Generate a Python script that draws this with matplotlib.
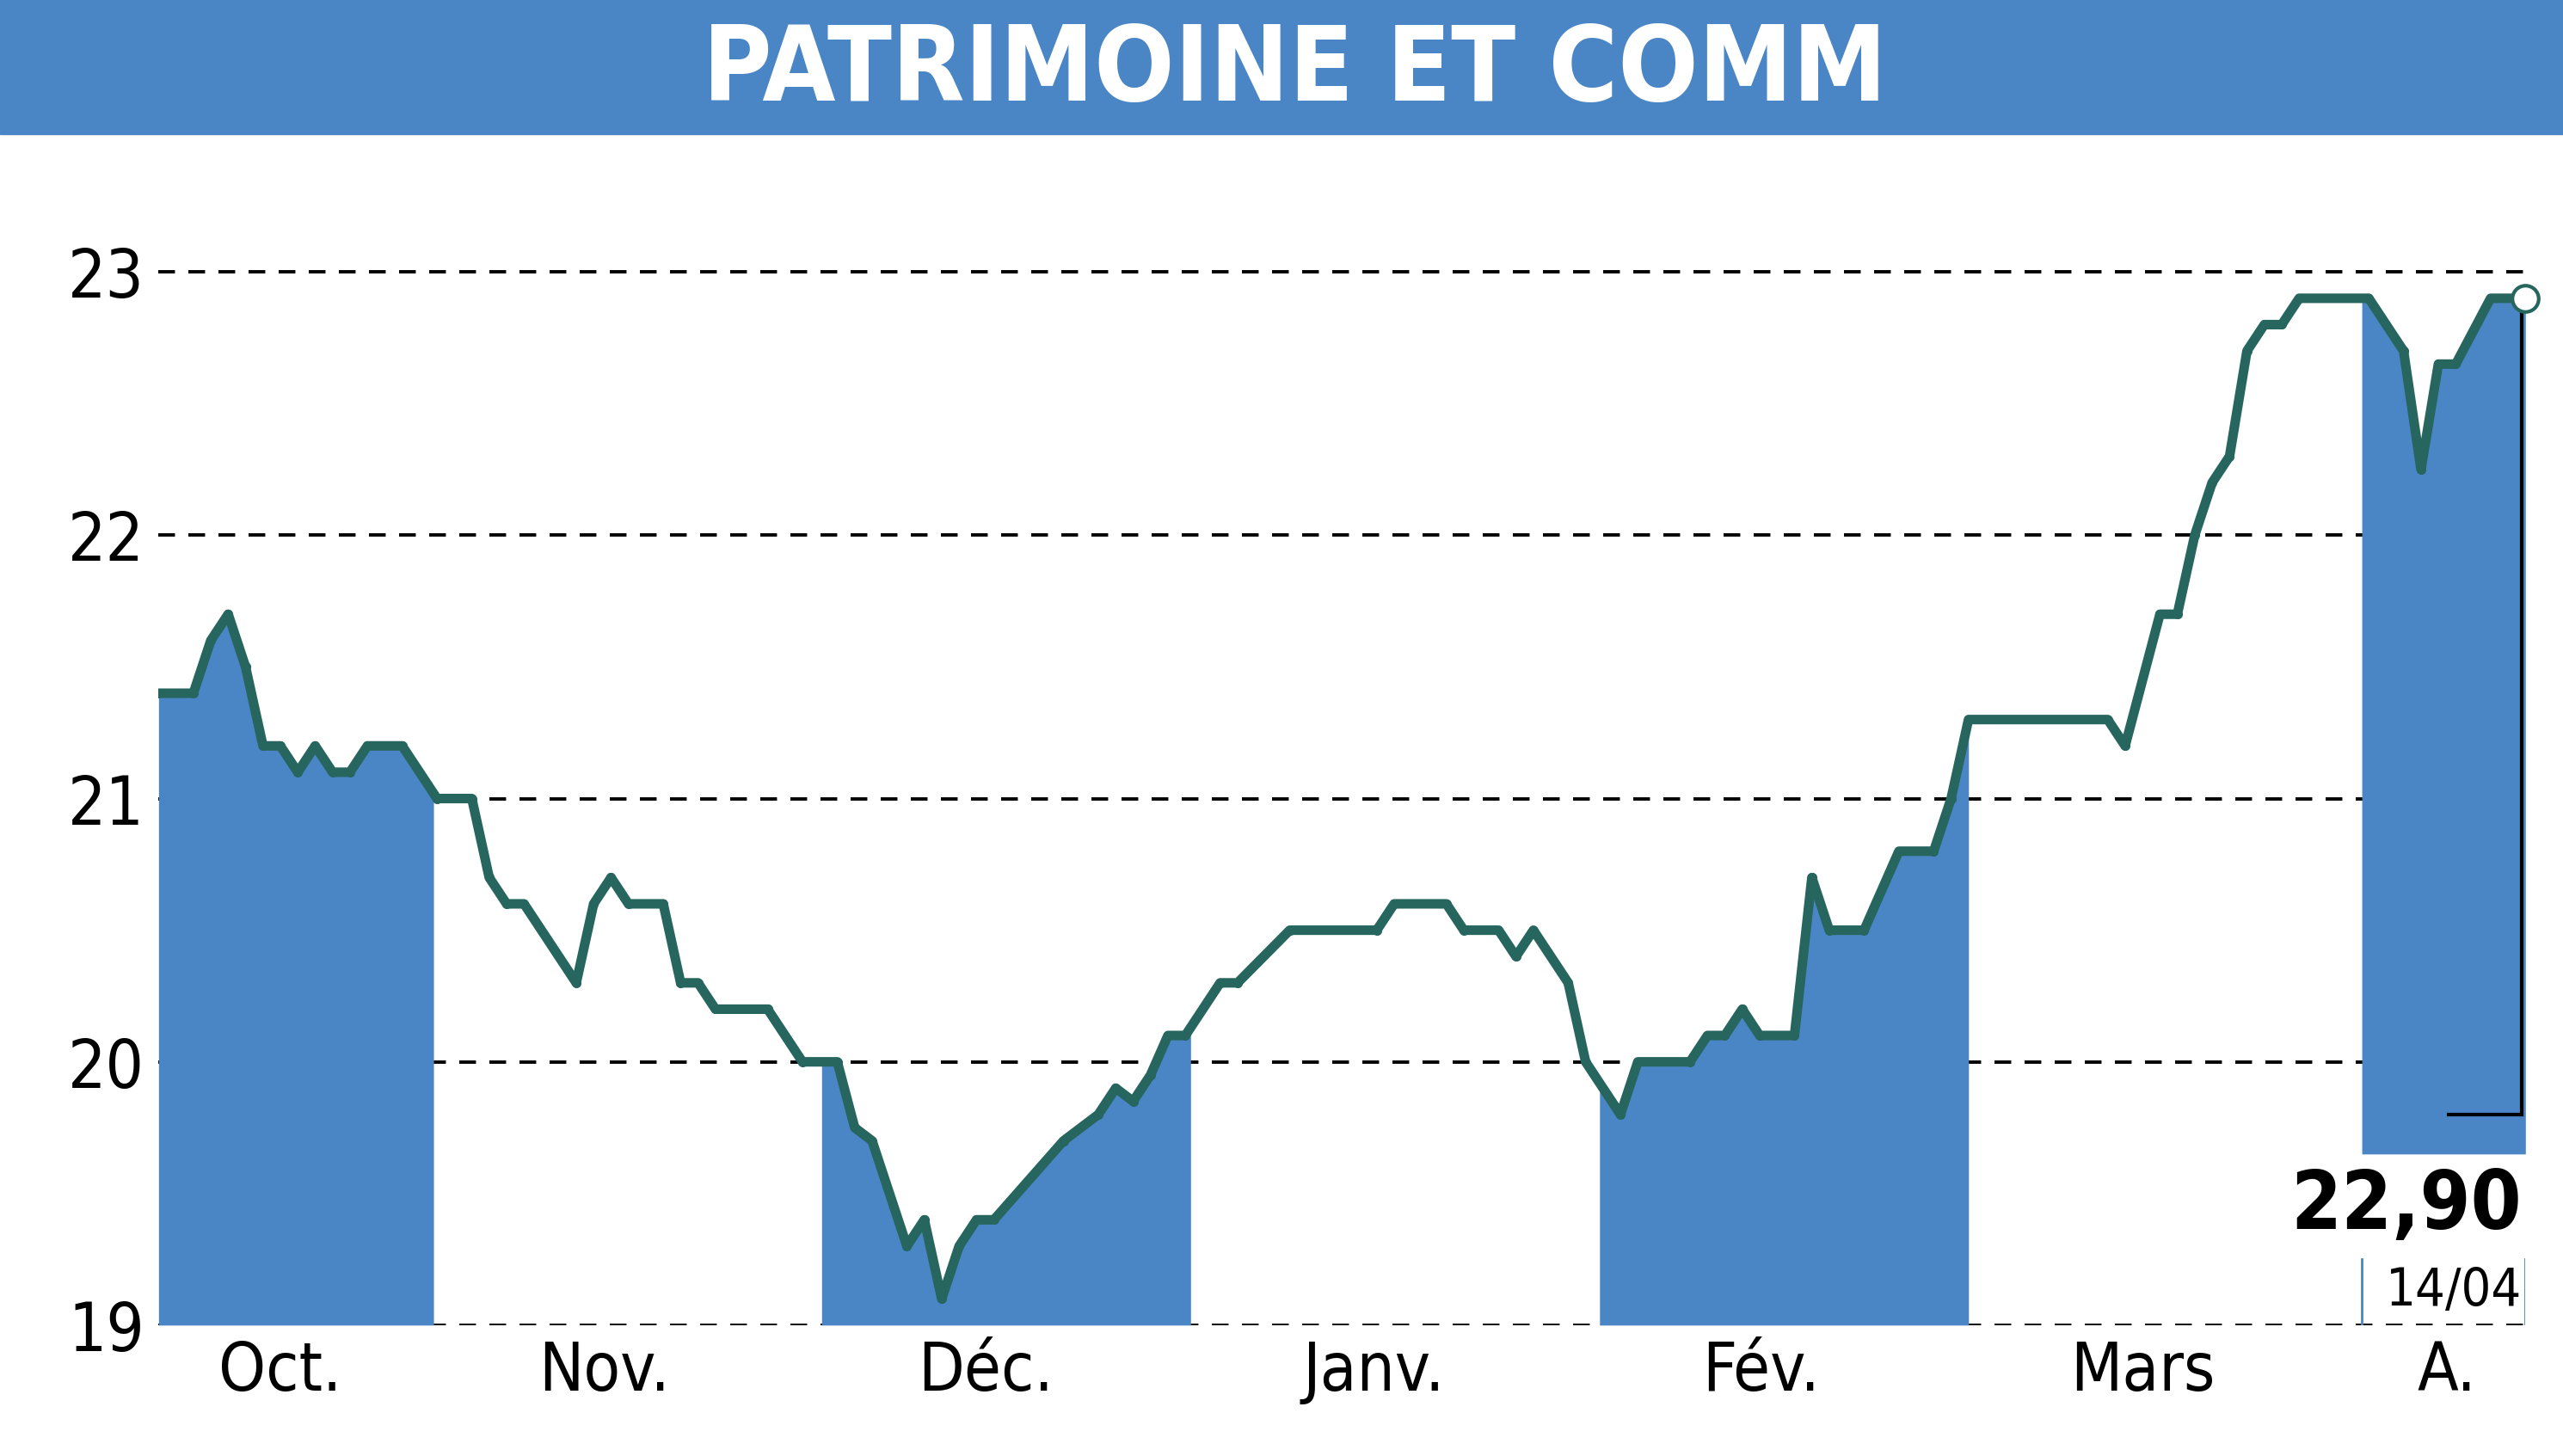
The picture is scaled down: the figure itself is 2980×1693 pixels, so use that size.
import matplotlib
matplotlib.use("Agg")
import matplotlib.pyplot as plt
from matplotlib import font_manager as fm
import numpy as np

names = {f.name for f in fm.fontManager.ttflist}
FONT = "Liberation Sans Narrow" if "Liberation Sans Narrow" in names else "DejaVu Sans"
STRETCH = "condensed"

days = [0,2,3,4,5,6,7,8,9,10,11,12,14,16,18,19,20,21,24,25,26,27,29,30,31,32,35,37,39,40,41,43,44,45,46,47,48,52,54,55,56,57,58,59,61,62,65,70,71,74,75,77,78,79,81,82,84,85,88,89,90,91,92,94,95,96,98,100,102,103,104,112,113,115,116,117,118,119,120,121,122,123,127,129,130,131,132,134,136]
prices = [21.4,21.4,21.6,21.7,21.5,21.2,21.2,21.1,21.2,21.1,21.1,21.2,21.2,21.0,21.0,20.7,20.6,20.6,20.3,20.6,20.7,20.6,20.6,20.3,20.3,20.2,20.2,20.0,20.0,19.75,19.7,19.3,19.4,19.1,19.3,19.4,19.4,19.7,19.8,19.9,19.85,19.95,20.1,20.1,20.3,20.3,20.5,20.5,20.6,20.6,20.5,20.5,20.4,20.5,20.3,20.0,19.8,20.0,20.0,20.1,20.1,20.2,20.1,20.1,20.7,20.5,20.5,20.8,20.8,21.0,21.3,21.3,21.2,21.7,21.7,22.0,22.2,22.3,22.7,22.8,22.8,22.9,22.9,22.7,22.25,22.65,22.65,22.9,22.9]
month_labels = ["Oct.","Nov.","Déc.","Janv.","Fév.","Mars","A."]
month_pos = [7,25.6,47.5,69.8,92.1,114,131.5]
bands = [(0,15.8),(38.1,59.3),(82.8,104),(126.6,136)]
yticks = [19,20,21,22,23]
title = "PATRIMOINE ET COMM"
last_label = "22,90"
last_date = "14/04"

BLUE = "#4a86c5"
LINE = "#27665f"
fig = plt.figure(figsize=(29.8,16.93), dpi=100)
fig.patches.append(plt.Rectangle((0,1-82/890),1,82/890,transform=fig.transFigure,color=BLUE,zorder=0))
fig.text(0.505,1-44/890,title,color="white",fontsize=88,fontweight="bold",family=FONT,stretch=STRETCH,ha="center",va="center")

ax = fig.add_axes([97/1568,1-810/890,(1545-97)/1568,(810-126)/890])
ax.set_xlim(0,136); ax.set_ylim(19,23.25)
d = np.array(days,float); p = np.array(prices)
for i,(a,b) in enumerate(bands):
    xs = np.linspace(a,b,400)
    ys = np.interp(xs,d,p)
    base = 19.65 if i==3 else 19
    ax.fill_between(xs,base,ys,color=BLUE,lw=0,zorder=1)
for y in yticks:
    ax.axhline(y,color="black",ls=(0,(5,4)),lw=2.8,zorder=0.5)
ax.plot(d,p,color=LINE,lw=8,marker="o",ms=7,zorder=3,solid_joinstyle="round")
ax.plot(d[-1],p[-1],"o",ms=22,mfc="white",mec=LINE,mew=3,zorder=4,clip_on=False)
ax.plot([d[-1]-0.2]*2,[p[-1]-0.05,19.8],color="black",lw=3,zorder=2)
ax.plot([131.6,135.8],[19.8,19.8],color="black",lw=3,zorder=2)
ax.plot([126.6,126.6],[19.0,19.25],color=BLUE,lw=2,zorder=2)
ax.plot([136,136],[19.0,19.25],color=BLUE,lw=2,zorder=2)
ax.text(135.8,19.45,last_label,fontsize=68,fontweight="bold",family=FONT,stretch=STRETCH,ha="right",va="center")
ax.text(135.8,19.13,last_date,fontsize=44,family=FONT,stretch=STRETCH,ha="right",va="center")
ax.set_yticks(yticks); ax.set_yticklabels([str(y) for y in yticks],fontsize=56,family=FONT,stretch=STRETCH)
ax.set_xticks(month_pos); ax.set_xticklabels(month_labels,fontsize=56,family=FONT,stretch=STRETCH)
ax.tick_params(length=0,pad=12)
for s in ax.spines.values(): s.set_visible(False)
fig.savefig("out.png",dpi=100)
